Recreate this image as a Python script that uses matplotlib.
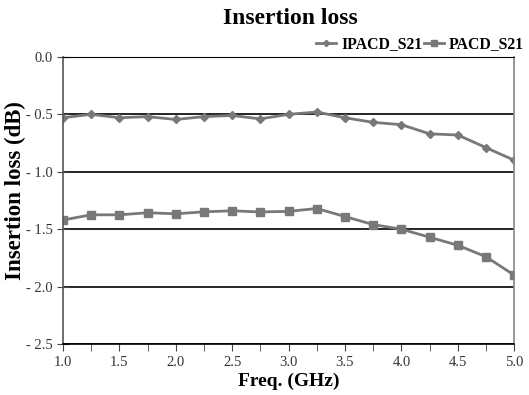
import numpy as np
import matplotlib
matplotlib.use("Agg")
import matplotlib.pyplot as plt
from matplotlib.ticker import MultipleLocator, FuncFormatter

# Dados
freq = [1.0, 1.25, 1.5, 1.75, 2.0, 2.25, 2.5, 2.75, 3.0, 3.25,
        3.5, 3.75, 4.0, 4.25, 4.5, 4.75, 5.0]
ipacd_s21 = [-0.53, -0.50, -0.53, -0.52, -0.545, -0.52, -0.51, -0.54, -0.50, -0.48,
             -0.53, -0.57, -0.59, -0.67, -0.68, -0.79, -0.90]
pacd_s21 = [-1.42, -1.375, -1.375, -1.357, -1.366, -1.349, -1.34, -1.35, -1.345, -1.32,
            -1.39, -1.46, -1.50, -1.57, -1.64, -1.74, -1.90]

plt.rcParams['font.family'] = ['Liberation Serif', 'DejaVu Serif']

fig = plt.figure(figsize=(5.29, 3.95), dpi=100)
ax = fig.add_axes([0.119, 0.129, 0.853, 0.727])

cor = '#787878'
ax.plot(freq, ipacd_s21, color=cor, lw=2, marker='D', ms=4, label='IPACD_S21')
ax.plot(freq, pacd_s21, color=cor, lw=2, marker='s', ms=6, label='PACD_S21')

ax.set_xlim(1.0, 5.0)
ax.set_ylim(-2.5, 0.0)
ax.xaxis.set_major_locator(MultipleLocator(0.5))
ax.xaxis.set_minor_locator(MultipleLocator(0.25))
ax.yaxis.set_major_locator(MultipleLocator(0.5))
ax.xaxis.set_major_formatter(FuncFormatter(lambda v, p: f"{v:.1f}"))
ax.yaxis.set_major_formatter(FuncFormatter(
    lambda v, p: f"- {abs(v):.1f}" if v < -1e-9 else f"{abs(v):.1f}"))

ax.grid(axis='y', color='black', lw=1.2)
ax.set_axisbelow(True)
for s in ['left', 'right', 'bottom']:
    ax.spines[s].set_color('#555555')
    ax.spines[s].set_linewidth(1.2)
ax.spines['right'].set_color('#888888')
ax.spines['top'].set_color('black')
ax.spines['bottom'].set_color('black')

ax.tick_params(axis='both', which='both', color='#444444',
               labelsize=10.5, labelcolor='#333333')
ax.tick_params(axis='x', which='both', direction='out', length=5)
ax.tick_params(axis='y', direction='inout', length=8)

ax.set_xlabel('Freq. (GHz)', fontsize=14, fontweight='bold', labelpad=3)
fig.text(0.029, 1 - 191 / 395, 'Insertion loss (dB)', rotation=90, ha='center',
         va='center', fontsize=16.5, fontweight='bold')
fig.text(0.549, 1 - 18 / 395, 'Insertion loss', ha='center', va='center',
         fontsize=17, fontweight='bold')

fig.legend(loc='center right', bbox_to_anchor=(524 / 529, 1 - 44 / 395), ncol=2,
           frameon=False, prop={'weight': 'bold', 'size': 11.3}, handlelength=1.3,
           handletextpad=0.3, columnspacing=0.1, borderaxespad=0, borderpad=0,
           markerscale=0.8)

fig.savefig('out.png', dpi=100)
